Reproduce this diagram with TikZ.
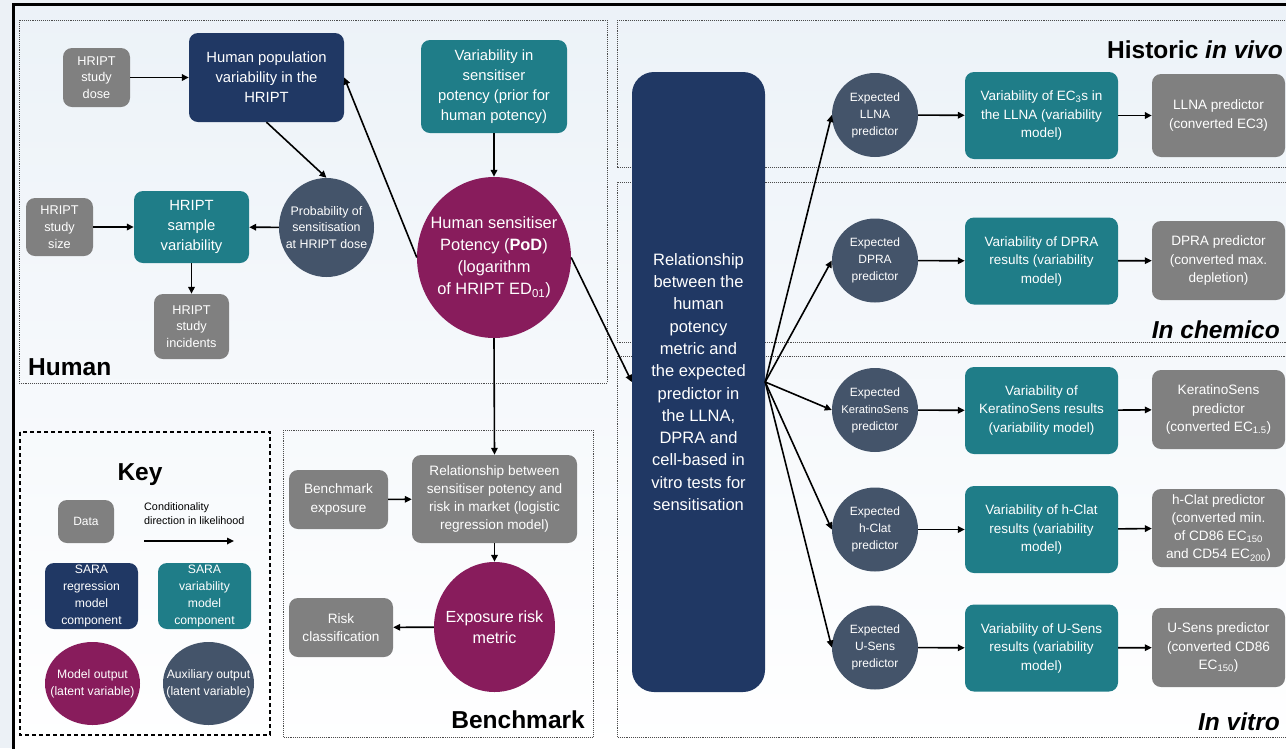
\documentclass[tikz,border=0pt]{standalone}
\usepackage{fontspec}
\setmainfont{Liberation Sans}
\usetikzlibrary{arrows.meta,shapes.geometric}
\definecolor{cNavy}{RGB}{32,56,100}
\definecolor{cTeal}{RGB}{31,125,136}
\definecolor{cGrey}{RGB}{128,128,128}
\definecolor{cPlum}{RGB}{136,28,92}
\definecolor{cSlate}{RGB}{68,84,106}
\definecolor{cBgOut}{RGB}{236,241,246}
\definecolor{cBgTop}{RGB}{236,242,248}
\newcommand\fsz[2]{\fontsize{#1}{#2}\selectfont}
\begin{document}
\begin{tikzpicture}[x=1pt,y=-1pt,
  blk/.style={rounded corners=9pt, align=center, text=white, inner sep=1pt},
  datab/.style={blk, fill=cGrey},
  regb/.style={blk, fill=cNavy},
  varb/.style={blk, fill=cTeal},
  outc/.style={ellipse, fill=cPlum, inner sep=0pt},
  auxc/.style={ellipse, fill=cSlate, inner sep=0pt},
  txt/.style={align=center, text=white, inner sep=0pt},
  arr/.style={-{Triangle[length=7pt,width=6.5pt]}, line width=1.6pt},
  panel/.style={draw=black!70, line width=0.9pt, densely dotted},
  ttl/.style={font=\fsz{24.5}{28}\bfseries, inner sep=0pt}
]
\useasboundingbox (0,0) rectangle (1286,748);
\clip (0,0) rectangle (1286,748);

% background and outer frame
\fill[cBgOut] (0,0) rectangle (1286,748);
\shade[top color=cBgTop, bottom color=white] (13.5,4) rectangle (1290,752);
\draw[line width=3pt] (13.5,752) -- (13.5,4) -- (1290,4);

% panels
\draw[panel] (19,20) rectangle (607,383);
\draw[panel] (283,430) rectangle (593,737);
\draw[line width=1.2pt, dash pattern=on 4pt off 3pt] (20,432) rectangle (270,735);
\draw[panel] (617,20) rectangle (1295,167);
\draw[panel] (617,182) rectangle (1295,342);
\draw[panel] (617,356) rectangle (1295,737);

% panel titles
\node[ttl, anchor=base west] (tHuman) at (28,375) {Human};
\node[ttl, anchor=base] (tKey) at (140,480) {Key};
\node[ttl, anchor=base east] (tBench) at (585,728) {Benchmark};
\node[ttl, anchor=base east] (tVivo) at (1283,58) {Historic \textit{in vivo}};
\node[ttl, anchor=base east] (tChem) at (1280,338) {\textit{In chemico}};
\node[ttl, anchor=base east] (tVitro) at (1280,730) {\textit{In vitro}};

% human part
\node[datab, minimum width=67, minimum height=59, font=\fsz{12.7}{16.7}] (dose) at (96.5,77.5) {HRIPT\\study\\dose};
\node[regb, minimum width=155, minimum height=89, font=\fsz{14.8}{20}] (hpop) at (266.5,77.5) {Human population\\variability in the\\HRIPT};
\node[varb, minimum width=146, minimum height=93, font=\fsz{14.8}{20}] (vsp) at (494,86.5) {Variability in\\sensitiser\\potency (prior for\\human potency)};
\node[outc, minimum width=154, minimum height=161,
  label={[txt, font=\fsz{16.4}{22}]center:{Human sensitiser\\Potency (\textbf{PoD})\\(logarithm\\of HRIPT ED\textsubscript{01})}}] (pot) at (494,257.5) {};
\node[auxc, minimum width=95, minimum height=99,
  label={[txt, font=\fsz{12.4}{16.7}]center:{Probability of\\sensitisation\\at HRIPT dose}}] (prob) at (326.5,227.5) {};
\node[varb, minimum width=115, minimum height=72, font=\fsz{14.8}{20}] (samp) at (191.5,227) {HRIPT\\sample\\variability};
\node[datab, minimum width=67, minimum height=58, font=\fsz{12.7}{16.7}] (size) at (59.5,227) {HRIPT\\study\\size};
\node[datab, minimum width=75, minimum height=65, font=\fsz{12.7}{16.7}] (inc) at (191.5,326.5) {HRIPT\\study\\incidents};

% key
\node[datab, minimum width=56, minimum height=43, font=\fsz{12}{16}] (kdata) at (86,521.5) {Data};
\node[anchor=north west, align=left, inner sep=0pt, font=\fsz{10.8}{14}] (kcond) at (144,502) {Conditionality\\direction in likelihood};
\coordinate (ka) at (144,541);
\coordinate (kb) at (234,541);
\node[regb, minimum width=93, minimum height=66, font=\fsz{12.2}{16.7}] (kreg) at (91.5,596) {SARA\\regression\\model\\component};
\node[varb, minimum width=93, minimum height=66, font=\fsz{12.2}{16.7}] (kvar) at (204.5,596) {SARA\\variability\\model\\component};
\node[outc, minimum width=95, minimum height=83,
  label={[txt, font=\fsz{12.2}{17}]center:{Model output\\(latent variable)}}] (kout) at (92.5,683.5) {};
\node[auxc, minimum width=91, minimum height=83,
  label={[txt, font=\fsz{12.2}{17}]center:{Auxiliary output\\(latent variable)}}] (kaux) at (208.5,683.5) {};

% benchmark part
\node[datab, minimum width=99, minimum height=59, font=\fsz{13.6}{18.3}] (bexp) at (338.5,499.5) {Benchmark\\exposure};
\node[datab, minimum width=165, minimum height=88, font=\fsz{13.6}{18.3}] (rel) at (494.5,499) {Relationship between\\sensitiser potency and\\risk in market (logistic\\regression model)};
\node[outc, minimum width=121, minimum height=130,
  label={[txt, font=\fsz{16.1}{20.5}]center:{Exposure risk\\metric}}] (erm) at (494.5,627) {};
\node[datab, minimum width=104, minimum height=59, font=\fsz{13.6}{18.3}] (risk) at (341,627.5) {Risk\\classification};

% central regression box
\node[regb, rounded corners=22pt, minimum width=133, minimum height=620, font=\fsz{16.5}{22.3}] (big) at (698.5,382) {Relationship\\between the\\human\\potency\\metric and\\the expected\\predictor in\\the LLNA,\\DPRA and\\cell-based in\\vitro tests for\\sensitisation};

% expected predictors
\node[auxc, minimum width=86, minimum height=84, label={[txt, font=\fsz{12}{17}]center:{Expected\\LLNA\\predictor}}] (e1) at (875,115) {};
\node[auxc, minimum width=86, minimum height=84, label={[txt, font=\fsz{12}{17}]center:{Expected\\DPRA\\predictor}}] (e2) at (875,260.5) {};
\node[auxc, minimum width=86, minimum height=84, label={[txt, font=\fsz{12}{17}]center:{Expected\\\fsz{11.2}{17}KeratinoSens\\predictor}}] (e3) at (875,410) {};
\node[auxc, minimum width=86, minimum height=84, label={[txt, font=\fsz{12}{17}]center:{Expected\\h-Clat\\predictor}}] (e4) at (875,529.5) {};
\node[auxc, minimum width=86, minimum height=84, label={[txt, font=\fsz{12}{17}]center:{Expected\\U-Sens\\predictor}}] (e5) at (875,647.5) {};

% variability models
\node[varb, minimum width=153, minimum height=87, font=\fsz{13.5}{18.5}] (v1) at (1041.5,115.5) {Variability of EC\textsubscript{3}s in\\the LLNA (variability\\model)};
\node[varb, minimum width=153, minimum height=87, font=\fsz{13.5}{18.5}] (v2) at (1041.5,261) {Variability of DPRA\\results (variability\\model)};
\node[varb, minimum width=153, minimum height=87, font=\fsz{13.5}{18.5}] (v3) at (1041.5,410.5) {Variability of\\KeratinoSens results\\(variability model)};
\node[varb, minimum width=153, minimum height=87, font=\fsz{13.5}{18.5}] (v4) at (1041.5,529.5) {Variability of h-Clat\\results (variability\\model)};
\node[varb, minimum width=153, minimum height=87, font=\fsz{13.5}{18.5}] (v5) at (1041.5,648) {Variability of U-Sens\\results (variability\\model)};

% observed predictors
\node[datab, minimum width=133, minimum height=83, font=\fsz{13.6}{18.3}] (p1) at (1218.5,115.5) {LLNA predictor\\(converted EC3)};
\node[datab, minimum width=133, minimum height=79, font=\fsz{13.6}{18.3}] (p2) at (1218.5,260.5) {DPRA predictor\\(converted max.\\depletion)};
\node[datab, minimum width=133, minimum height=79, font=\fsz{13.6}{18.3}] (p3) at (1218.5,409.5) {KeratinoSens\\predictor\\(converted EC\textsubscript{1.5})};
\node[datab, minimum width=133, minimum height=78, font=\fsz{13.6}{18.3}] (p4) at (1218.5,528) {h-Clat predictor\\(converted min.\\of CD86 EC\textsubscript{150}\\and CD54 EC\textsubscript{200})};
\node[datab, minimum width=133, minimum height=79, font=\fsz{13.6}{18.3}] (p5) at (1218.5,647.5) {U-Sens predictor\\(converted CD86\\EC\textsubscript{150})};

% connectors
\draw[arr] (dose) -- (hpop);
\draw[arr] (hpop.south) -- (prob.north);
\draw[arr] (pot.west) -- (hpop.east);
\draw[arr] (prob) -- (samp);
\draw[arr] (size) -- (samp);
\draw[arr] (samp) -- (inc);
\draw[arr] (vsp) -- (pot);
\draw[arr] (pot.east) -- (big.west);
\draw[arr] (pot.south) -- (rel.north);
\draw[arr] (bexp) -- (rel);
\draw[arr] (rel) -- (erm);
\draw[arr] (erm) -- (risk);
\draw[arr] (ka) -- (kb);
\foreach \i in {1,...,5} {
  \draw[arr] (big.east) -- (e\i.west);
  \draw[arr] (e\i) -- (v\i);
  \draw[arr] (v\i) -- (p\i);
}
\end{tikzpicture}
\end{document}
